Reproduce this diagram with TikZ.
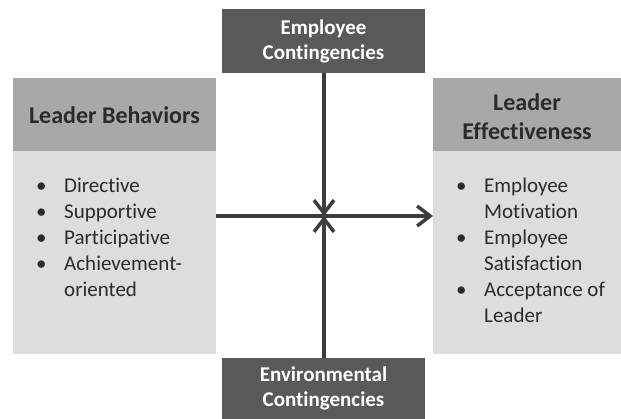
\documentclass[tikz,border=0pt]{standalone}
\usepackage{fontspec}
\setmainfont{Carlito}[Ligatures={NoCommon}]
\usepackage{array}
\usetikzlibrary{arrows.meta}
\definecolor{hdr}{HTML}{A7A8AA}
\definecolor{bdy}{HTML}{DCDDDE}
\definecolor{drk}{HTML}{58595B}
\definecolor{txt}{HTML}{2B2B2B}
\definecolor{ln}{HTML}{3D3D3F}
\tikzset{
  hdrbox/.style={fill=hdr,draw=none},
  bdybox/.style={fill=bdy,draw=none},
  drkbox/.style={fill=drk,draw=none},
  hdrtxt/.style={text=txt,font=\bfseries\fontsize{24}{29}\selectfont,align=center,inner sep=0pt},
  drktxt/.style={text=white,font=\bfseries\fontsize{21}{25}\selectfont,align=center,inner sep=0pt},
  listtxt/.style={text=txt,font=\fontsize{21}{26}\selectfont,anchor=north west,inner sep=0pt,align=left},
  conn/.style={draw=ln,line width=3.5pt,-{Straight Barb[length=13pt,width=20pt]}},
}
\begin{document}
\begin{tikzpicture}[x=1pt,y=-1pt]
\useasboundingbox (0,0) rectangle (621,419);
\fill[white] (0,0) rectangle (621,419);
% left box
\path[hdrbox] (13,78) rectangle (216,151);
\path[bdybox] (13,151) rectangle (216,354);
\node[hdrtxt] (lbh) at (114.5,115) {Leader Behaviors};
\node[listtxt] (lbl) at (36,174) {\begin{tabular}{@{}p{28pt}@{}l@{}}
• & Directive\\
• & Supportive\\
• & Participative\\
• & Achievement-\\
  & oriented
\end{tabular}};
% right box
\path[hdrbox] (433,78) rectangle (621,151);
\path[bdybox] (433,151) rectangle (621,354);
\node[hdrtxt] (rbh) at (527,117) {Leader\\Effectiveness};
\node[listtxt] (rbl) at (456,174) {\begin{tabular}{@{}p{28pt}@{}l@{}}
• & Employee\\
  & Motivation\\
• & Employee\\
  & Satisfaction\\
• & Acceptance of\\
  & Leader
\end{tabular}};
% top / bottom boxes
\path[drkbox] (222,9) rectangle (425,73);
\node[drktxt] (top) at (323.5,41) {Employee\\Contingencies};
\path[drkbox] (222,358) rectangle (425,419);
\node[drktxt] (bot) at (323.5,388) {Environmental\\Contingencies};
% connectors
\coordinate (c) at (324,216);
\coordinate (ts) at (324,73);
\coordinate (bs) at (324,358);
\coordinate (ls) at (216,216);
\coordinate (re) at (433,216);
\draw[conn] (ts) -- (c);
\draw[conn] (bs) -- (c);
\draw[conn] (ls) -- (re);
\end{tikzpicture}
\end{document}
